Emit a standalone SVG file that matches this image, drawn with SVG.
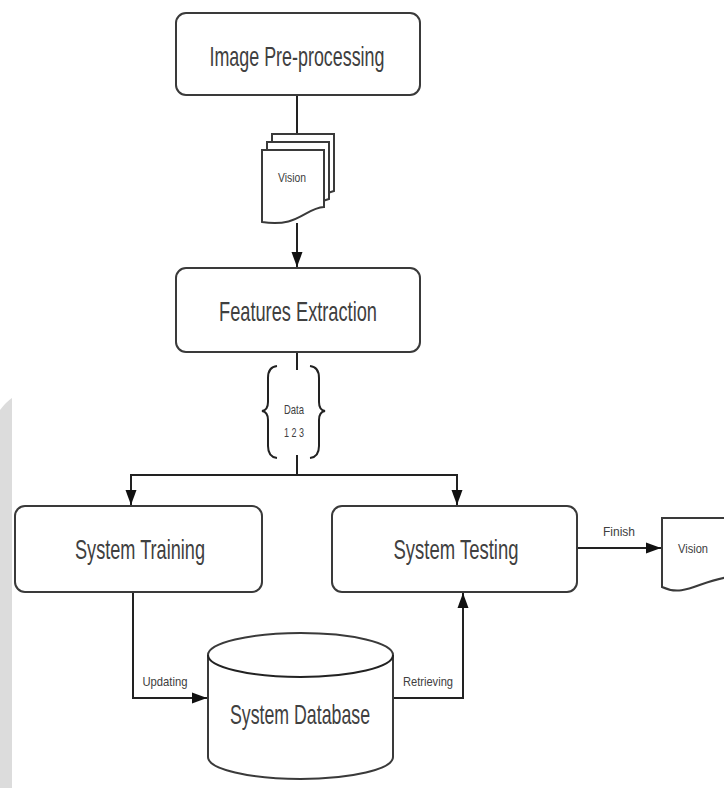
<svg xmlns="http://www.w3.org/2000/svg" width="724" height="788" viewBox="0 0 724 788">
<style>
.box{fill:#fff;stroke:#3a3a3a;stroke-width:2}
.t{font-family:"Liberation Sans",Arial,sans-serif;fill:#404040;text-anchor:middle;dominant-baseline:central}
.big{font-size:28px}
.sm{font-size:13px}
.ln{fill:none;stroke:#222;stroke-width:2}
</style>
<defs>
<marker id="ah" markerUnits="userSpaceOnUse" markerWidth="16" markerHeight="12" viewBox="0 0 15 12" refX="15" refY="6" orient="auto">
<path d="M0,0.5 L15,6 L0,11.5 Z" fill="#111"/>
</marker>
</defs>
<rect width="724" height="788" fill="#fff"/>
<path d="M0,410 Q6,402 12,398 V788 H0 Z" fill="#dcdcdc"/>
<g id="connectors">
<line class="ln" x1="297" y1="95" x2="297" y2="134"/>
<line class="ln" x1="297" y1="223" x2="297" y2="267" marker-end="url(#ah)"/>
<line class="ln" x1="297" y1="352" x2="297" y2="370"/>
<line class="ln" x1="297" y1="455" x2="297" y2="475"/>
<line class="ln" x1="130" y1="475" x2="458" y2="475" stroke-width="2.5"/>
<line class="ln" x1="131" y1="475" x2="131" y2="505" marker-end="url(#ah)"/>
<line class="ln" x1="457" y1="475" x2="457" y2="505" marker-end="url(#ah)"/>
<line class="ln" x1="577" y1="548" x2="661" y2="548" stroke-width="2.5" marker-end="url(#ah)"/>
<polyline class="ln" points="133,592 133,698 207,698" stroke-width="2.5" marker-end="url(#ah)"/>
<polyline class="ln" points="393,698 463,698 463,593" stroke-width="2.5" marker-end="url(#ah)"/>
<text class="t sm" x="165" y="681" textLength="45" lengthAdjust="spacingAndGlyphs">Updating</text>
<text class="t sm" x="428" y="681" textLength="50" lengthAdjust="spacingAndGlyphs">Retrieving</text>
<text class="t sm" x="619" y="531" textLength="32" lengthAdjust="spacingAndGlyphs">Finish</text>
</g>
<g id="image-preprocessing">
<rect class="box" x="176" y="13" width="244" height="82" rx="10"/>
<text class="t big" x="297" y="56" textLength="175" lengthAdjust="spacingAndGlyphs">Image Pre-processing</text>
</g>
<g id="vision-docs">
<path class="box" d="M272,134 H334 V191 C320,194 305,210 272,206 Z"/>
<path class="box" d="M267,142 H329 V199 C315,202 300,218 267,214 Z"/>
<path class="box" d="M262,150 H324 V207 C305,208 298,228 262,222 Z"/>
<text class="t sm" x="292" y="177" textLength="28" lengthAdjust="spacingAndGlyphs">Vision</text>
</g>
<g id="features-extraction">
<rect class="box" x="176" y="268" width="244" height="84" rx="10"/>
<text class="t big" x="298" y="311" textLength="158" lengthAdjust="spacingAndGlyphs">Features Extraction</text>
</g>
<g id="data">
<path class="ln" stroke="#333" d="M277,366 Q268,367 268,378 V402 Q268,410 262,411 Q268,412 268,420 V446 Q268,457 277,458"/>
<path class="ln" stroke="#333" d="M310,366 Q319,367 319,378 V402 Q319,410 325,411 Q319,412 319,420 V446 Q319,457 310,458"/>
<text class="t sm" x="294" y="409" textLength="20" lengthAdjust="spacingAndGlyphs">Data</text>
<text class="t sm" x="294" y="432" textLength="20" lengthAdjust="spacingAndGlyphs">1 2 3</text>
</g>
<g id="system-training">
<rect class="box" x="15" y="506" width="247" height="86" rx="10"/>
<text class="t big" x="140" y="549" textLength="130" lengthAdjust="spacingAndGlyphs">System Training</text>
</g>
<g id="system-testing">
<rect class="box" x="332" y="506" width="245" height="86" rx="10"/>
<text class="t big" x="456" y="549" textLength="125" lengthAdjust="spacingAndGlyphs">System Testing</text>
</g>
<g id="vision-output">
<path class="box" d="M730,518 H662 V587 C685,598 700,580 730,577"/>
<text class="t sm" x="693" y="548" textLength="30" lengthAdjust="spacingAndGlyphs">Vision</text>
</g>
<g id="system-database">
<path class="box" d="M208,655 A92.5,22 0 0 1 393,655 V757 A92.5,22 0 0 1 208,757 Z"/>
<path class="ln" stroke="#3a3a3a" d="M208,655 A92.5,22 0 0 0 393,655"/>
<text class="t big" x="300" y="714" textLength="140" lengthAdjust="spacingAndGlyphs">System Database</text>
</g>
</svg>
